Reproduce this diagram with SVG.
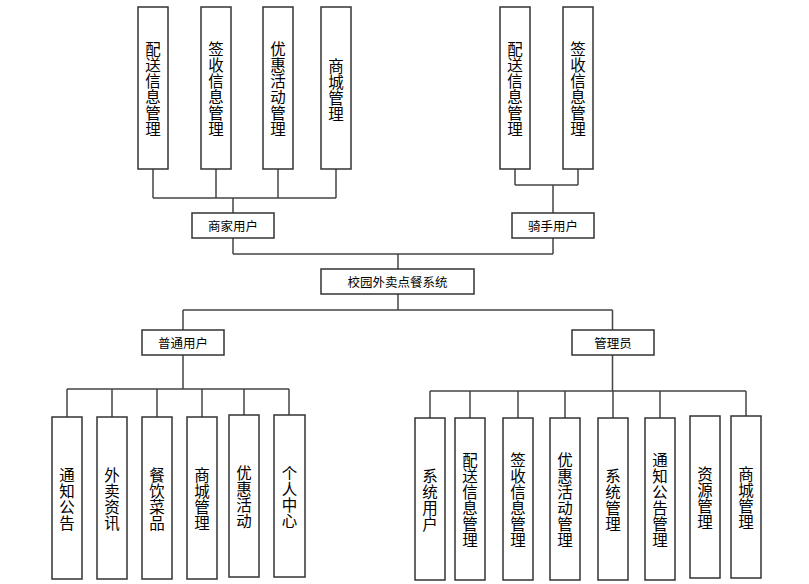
<svg xmlns="http://www.w3.org/2000/svg" width="809" height="584" viewBox="0 0 809 584">
<style>
.box{fill:#fff;stroke:#333;stroke-width:1.5}
.ln{fill:none;stroke:#444;stroke-width:1.5}
.h{font-family:"Noto Sans CJK SC","Liberation Sans",sans-serif;font-size:12.5px;fill:#000;text-anchor:middle;dominant-baseline:central}
.v{font-family:"Noto Sans CJK SC","Liberation Sans",sans-serif;font-size:15.5px;fill:#000;text-anchor:middle;dominant-baseline:central}
</style>
<rect width="809" height="584" fill="#fff"/>
<g id="connectors">
<path class="ln" d="M153 169V198M216 169V198M278 169V198M336 169V198M153 198H336M233 198V213"/>
<path class="ln" d="M515 169V185M578 169V185M515 185H578M553 185V213"/>
<path class="ln" d="M233 238V254M553 238V254M233 254H553M398 254V269"/>
<path class="ln" d="M398 294V310M183 310H612.5M183 310V330M612.5 310V330"/>
<path class="ln" d="M183 355V389M67 389H289M67 389V417M112 389V417M157 389V417M202 389V417M244 389V415M289 389V415"/>
<path class="ln" d="M612.5 355V391M430 391H746M430 391V418M470 391V418M518 391V418M565 391V418M613 391V418M660 391V418M746 391V416"/>
</g>
<g id="m1"><rect class="box" x="138" y="7" width="30" height="162"/><text class="v"><tspan x="153" y="48">配</tspan><tspan x="153" y="64">送</tspan><tspan x="153" y="80">信</tspan><tspan x="153" y="96">息</tspan><tspan x="153" y="112">管</tspan><tspan x="153" y="128">理</tspan></text></g>
<g id="m2"><rect class="box" x="201" y="7" width="30" height="162"/><text class="v"><tspan x="216" y="48">签</tspan><tspan x="216" y="64">收</tspan><tspan x="216" y="80">信</tspan><tspan x="216" y="96">息</tspan><tspan x="216" y="112">管</tspan><tspan x="216" y="128">理</tspan></text></g>
<g id="m3"><rect class="box" x="263" y="7" width="30" height="162"/><text class="v"><tspan x="278" y="48">优</tspan><tspan x="278" y="64">惠</tspan><tspan x="278" y="80">活</tspan><tspan x="278" y="96">动</tspan><tspan x="278" y="112">管</tspan><tspan x="278" y="128">理</tspan></text></g>
<g id="m4"><rect class="box" x="321" y="7" width="30" height="162"/><text class="v"><tspan x="336" y="65">商</tspan><tspan x="336" y="81">城</tspan><tspan x="336" y="97">管</tspan><tspan x="336" y="113">理</tspan></text></g>
<g id="r1"><rect class="box" x="500" y="7" width="30" height="162"/><text class="v"><tspan x="515" y="48">配</tspan><tspan x="515" y="64">送</tspan><tspan x="515" y="80">信</tspan><tspan x="515" y="96">息</tspan><tspan x="515" y="112">管</tspan><tspan x="515" y="128">理</tspan></text></g>
<g id="r2"><rect class="box" x="563" y="7" width="30" height="162"/><text class="v"><tspan x="578" y="48">签</tspan><tspan x="578" y="64">收</tspan><tspan x="578" y="80">信</tspan><tspan x="578" y="96">息</tspan><tspan x="578" y="112">管</tspan><tspan x="578" y="128">理</tspan></text></g>
<g id="merchant"><rect class="box" x="192" y="213" width="82" height="25"/><text class="h" x="233" y="225.5">商家用户</text></g>
<g id="rider"><rect class="box" x="512" y="213" width="82" height="25"/><text class="h" x="553" y="225.5">骑手用户</text></g>
<g id="system"><rect class="box" x="321" y="269" width="153" height="25"/><text class="h" x="397.5" y="281.5">校园外卖点餐系统</text></g>
<g id="user"><rect class="box" x="142" y="330" width="82" height="25"/><text class="h" x="183" y="342.5">普通用户</text></g>
<g id="admin"><rect class="box" x="572" y="330" width="82" height="25"/><text class="h" x="613" y="342.5">管理员</text></g>
<g id="u1"><rect class="box" x="52" y="417" width="30" height="162"/><text class="v"><tspan x="67" y="474">通</tspan><tspan x="67" y="490">知</tspan><tspan x="67" y="506">公</tspan><tspan x="67" y="522">告</tspan></text></g>
<g id="u2"><rect class="box" x="97" y="417" width="30" height="162"/><text class="v"><tspan x="112" y="474">外</tspan><tspan x="112" y="490">卖</tspan><tspan x="112" y="506">资</tspan><tspan x="112" y="522">讯</tspan></text></g>
<g id="u3"><rect class="box" x="142" y="417" width="30" height="162"/><text class="v"><tspan x="157" y="474">餐</tspan><tspan x="157" y="490">饮</tspan><tspan x="157" y="506">菜</tspan><tspan x="157" y="522">品</tspan></text></g>
<g id="u4"><rect class="box" x="187" y="417" width="30" height="162"/><text class="v"><tspan x="202" y="474">商</tspan><tspan x="202" y="490">城</tspan><tspan x="202" y="506">管</tspan><tspan x="202" y="522">理</tspan></text></g>
<g id="u5"><rect class="box" x="229" y="415" width="30" height="162"/><text class="v"><tspan x="244" y="472">优</tspan><tspan x="244" y="488">惠</tspan><tspan x="244" y="504">活</tspan><tspan x="244" y="520">动</tspan></text></g>
<g id="u6"><rect class="box" x="274" y="415" width="31" height="162"/><text class="v"><tspan x="289.5" y="472">个</tspan><tspan x="289.5" y="488">人</tspan><tspan x="289.5" y="504">中</tspan><tspan x="289.5" y="520">心</tspan></text></g>
<g id="a1"><rect class="box" x="415" y="418" width="30" height="162"/><text class="v"><tspan x="430" y="475">系</tspan><tspan x="430" y="491">统</tspan><tspan x="430" y="507">用</tspan><tspan x="430" y="523">户</tspan></text></g>
<g id="a2"><rect class="box" x="455" y="418" width="30" height="162"/><text class="v"><tspan x="470" y="459">配</tspan><tspan x="470" y="475">送</tspan><tspan x="470" y="491">信</tspan><tspan x="470" y="507">息</tspan><tspan x="470" y="523">管</tspan><tspan x="470" y="539">理</tspan></text></g>
<g id="a3"><rect class="box" x="503" y="418" width="30" height="162"/><text class="v"><tspan x="518" y="459">签</tspan><tspan x="518" y="475">收</tspan><tspan x="518" y="491">信</tspan><tspan x="518" y="507">息</tspan><tspan x="518" y="523">管</tspan><tspan x="518" y="539">理</tspan></text></g>
<g id="a4"><rect class="box" x="550" y="418" width="30" height="162"/><text class="v"><tspan x="565" y="459">优</tspan><tspan x="565" y="475">惠</tspan><tspan x="565" y="491">活</tspan><tspan x="565" y="507">动</tspan><tspan x="565" y="523">管</tspan><tspan x="565" y="539">理</tspan></text></g>
<g id="a5"><rect class="box" x="598" y="418" width="30" height="162"/><text class="v"><tspan x="613" y="475">系</tspan><tspan x="613" y="491">统</tspan><tspan x="613" y="507">管</tspan><tspan x="613" y="523">理</tspan></text></g>
<g id="a6"><rect class="box" x="645" y="418" width="30" height="162"/><text class="v"><tspan x="660" y="459">通</tspan><tspan x="660" y="475">知</tspan><tspan x="660" y="491">公</tspan><tspan x="660" y="507">告</tspan><tspan x="660" y="523">管</tspan><tspan x="660" y="539">理</tspan></text></g>
<g id="a7"><rect class="box" x="690" y="416" width="30" height="162"/><text class="v"><tspan x="705" y="473">资</tspan><tspan x="705" y="489">源</tspan><tspan x="705" y="505">管</tspan><tspan x="705" y="521">理</tspan></text></g>
<g id="a8"><rect class="box" x="731" y="416" width="30" height="162"/><text class="v"><tspan x="746" y="473">商</tspan><tspan x="746" y="489">城</tspan><tspan x="746" y="505">管</tspan><tspan x="746" y="521">理</tspan></text></g>
</svg>
